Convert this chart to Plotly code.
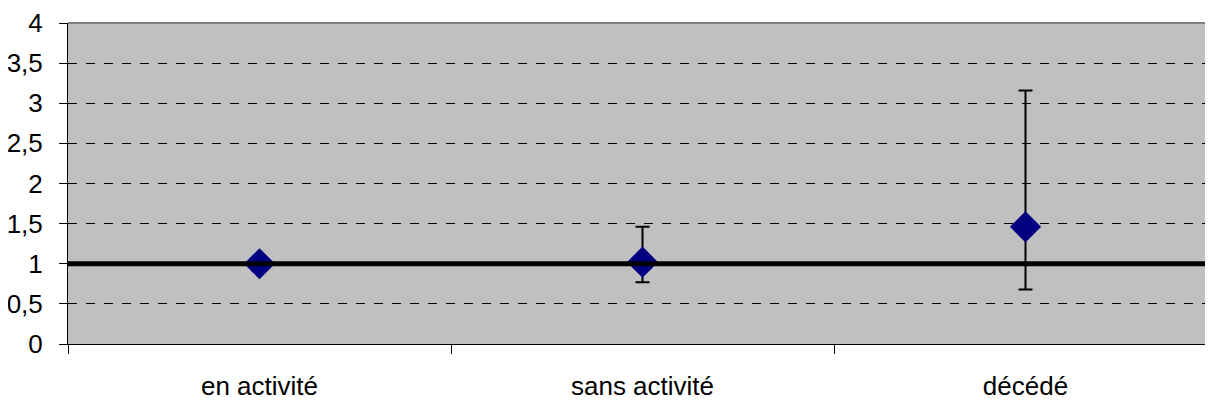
import plotly.graph_objects as go

categories = ["en activité", "sans activité", "décédé"]
values = [1.0, 1.02, 1.46]
err_plus = [0.0, 0.44, 1.70]
err_minus = [0.0, 0.25, 0.78]
ref_value = 1.0
y_ticks = [0, 0.5, 1, 1.5, 2, 2.5, 3, 3.5, 4]
y_tick_labels = ["0", "0,5", "1", "1,5", "2", "2,5", "3", "3,5", "4"]

FONT = "Liberation Sans, Arial, sans-serif"

fig = go.Figure()

# reference line at 1 across full width
fig.add_trace(go.Scatter(
    x=[-0.5, 2.5], y=[ref_value, ref_value], mode="lines",
    line=dict(color="black", width=5), xaxis="x2", hoverinfo="skip", showlegend=False,
))

fig.add_trace(go.Scatter(
    x=categories, y=values, mode="markers",
    marker=dict(symbol="diamond", size=24, color="#000080", line=dict(width=0)),
    error_y=dict(type="data", symmetric=False, array=err_plus, arrayminus=err_minus,
                 color="black", thickness=2, width=7),
    showlegend=False,
))

fig.update_layout(
    width=1213, height=398,
    margin=dict(l=60, r=4, t=15, b=62, autoexpand=False),
    paper_bgcolor="white",
    plot_bgcolor="#C0C0C0",
    font=dict(family=FONT, size=26, color="black"),
    xaxis=dict(
        type="category", range=[-0.5, 2.5], tickson="boundaries",
        ticks="outside", ticklen=9, tickwidth=1, tickcolor="black",
        showline=True, linecolor="black", linewidth=1,
        showgrid=False, zeroline=False, automargin=False,
        ticklabelstandoff=19,
        tickfont=dict(family=FONT, size=26),
    ),
    xaxis2=dict(range=[-0.5, 2.5], overlaying="x", visible=False),
    yaxis=dict(
        range=[0, 4], tickvals=y_ticks, ticktext=y_tick_labels,
        ticks="outside", ticklen=8, tickwidth=1, tickcolor="black",
        showline=True, linecolor="black", linewidth=1,
        showgrid=True, gridcolor="black", griddash="dash", gridwidth=1,
        zeroline=False, ticklabelstandoff=11, automargin=False,
        tickfont=dict(family=FONT, size=26),
    ),
    shapes=[dict(type="line", xref="paper", yref="paper", x0=0, x1=1, y0=1, y1=1,
                 line=dict(color="#808080", width=2))],
)

fig.write_html("out.html")
